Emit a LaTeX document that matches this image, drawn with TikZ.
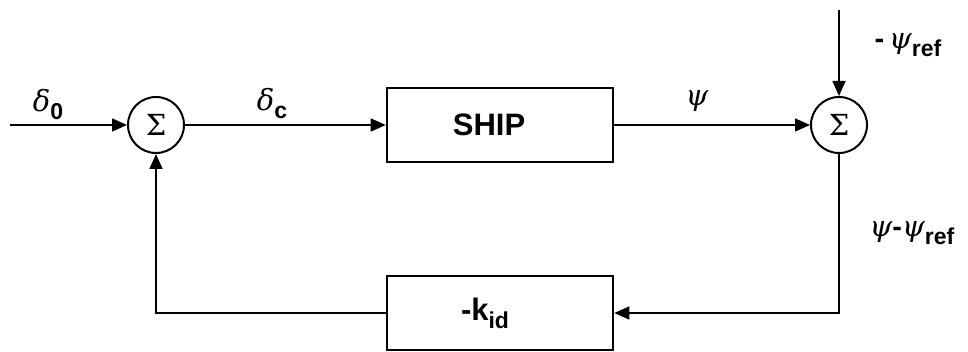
\documentclass[tikz,border=0pt]{standalone}
\usepackage{fontspec}
\setsansfont{Liberation Sans}
\newfontfamily\grk{DejaVu Serif}
\usetikzlibrary{arrows.meta}
\begin{document}
\begin{tikzpicture}[x=1pt,y=-1pt,
  sumnode/.style={circle,draw,line width=2pt,minimum size=56pt,inner sep=0pt,
    font=\grk\fontsize{29}{32}\selectfont},
  blockbox/.style={draw,line width=2.6pt,minimum width=226pt,minimum height=74pt,
    font=\sffamily\bfseries\fontsize{31}{34}\selectfont},
  sig/.style={line width=1.6pt,-{Triangle[length=15pt,width=13pt]}},
  lbl/.style={font=\fontsize{29}{32}\selectfont,inner sep=0pt}]
\newcommand{\subtxt}[1]{\raisebox{-8pt}{\sffamily\bfseries\fontsize{23}{25}\selectfont #1}}
\newcommand{\gr}[1]{{\grk\mdseries\itshape #1}}
\useasboundingbox (0,0) rectangle (968,352);

% summing junctions and blocks
\node[sumnode] (s1) at (156,125) {Σ};
\node[sumnode] (s2) at (839,125) {Σ};
\node[blockbox] (ship) at (500,125) {SHIP\hspace*{22pt}};
\node[blockbox] (kid) at (500,313) {-k\subtxt{id}\hspace*{30pt}};

% free ends of the input lines and corners of the feedback loop
\coordinate (in0) at (10,125);
\coordinate (inref) at (839,10);
\coordinate (c1) at (839,313);
\coordinate (c2) at (156,313);

% forward path
\draw[sig] (in0) -- (s1.west);
\draw[sig] (s1.east) -- (ship.west);
\draw[sig] (ship.east) -- (s2.west);
\draw[sig] (inref) -- (s2.north);

% feedback path
\draw[sig] (s2.south) -- (c1) -- (kid.east);
\draw[sig] (kid.west) -- (c2) -- (s1.south);

% signal labels
\node[lbl] (ld0) at (48,105) {\gr{δ}\subtxt{0}};
\node[lbl] (ldc) at (272,104) {\gr{δ}\subtxt{c}};
\node[lbl] (lpsi) at (697,101) {\gr{ψ}};
\node[lbl] (lref) at (908,45) {\sffamily\bfseries -\,\gr{ψ}\subtxt{ref}};
\node[lbl] (lerr) at (912,233) {\gr{ψ}\sffamily\bfseries -\gr{ψ}\subtxt{ref}};
\end{tikzpicture}
\end{document}
